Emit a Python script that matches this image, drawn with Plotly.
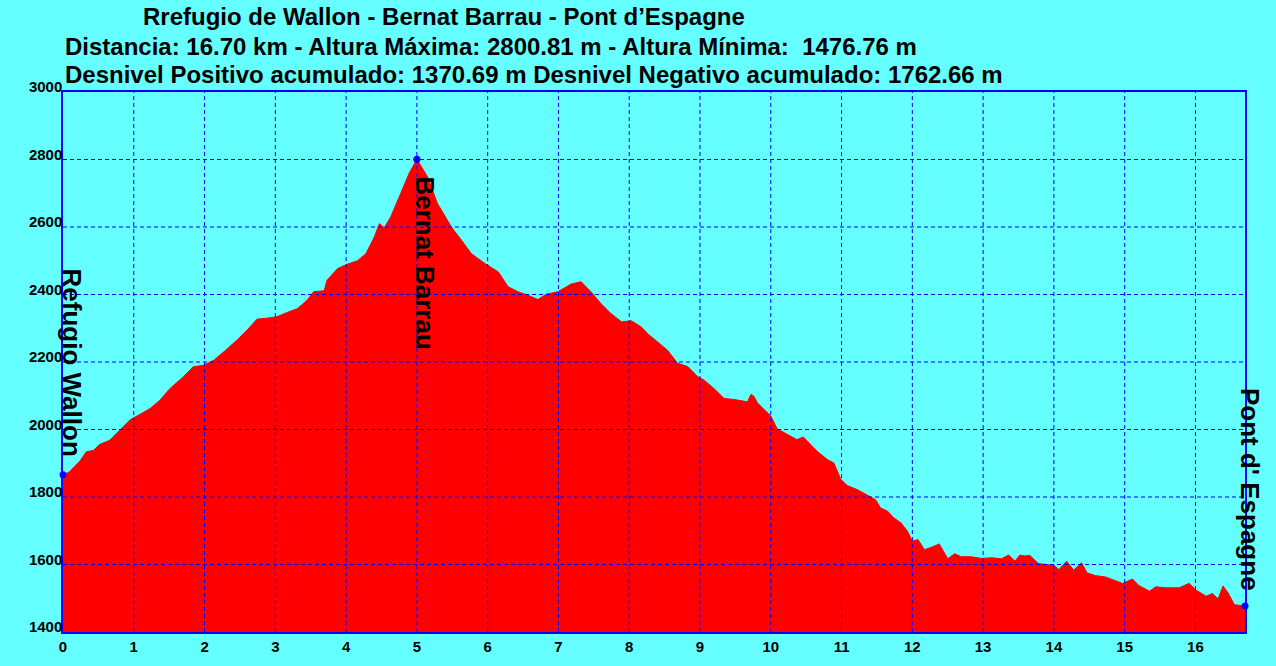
import plotly.graph_objects as go

# Profile data: distance (km) and altitude (m)
distancia = [0.0, 0.09, 0.24, 0.33, 0.43, 0.52, 0.66, 0.80, 0.95, 1.09, 1.23, 1.37, 1.51,
             1.70, 1.84, 1.98, 2.13, 2.27, 2.46, 2.60, 2.74, 2.88, 3.02, 3.17, 3.31, 3.45,
             3.54, 3.69, 3.73, 3.88, 4.02, 4.16, 4.28, 4.40, 4.47, 4.54, 4.63, 4.77, 4.89,
             5.0, 5.15, 5.29, 5.49, 5.63, 5.77, 5.96, 6.15, 6.29, 6.43, 6.57, 6.71, 6.83,
             6.99, 7.18, 7.32, 7.46, 7.60, 7.74, 7.89, 8.03, 8.17, 8.26, 8.40, 8.54, 8.68,
             8.83, 8.97, 9.06, 9.20, 9.34, 9.48, 9.67, 9.72, 9.76, 9.81, 9.90, 10.0, 10.09,
             10.23, 10.37, 10.46, 10.54, 10.65, 10.80, 10.89, 10.99, 11.08, 11.22, 11.36,
             11.48, 11.55, 11.65, 11.74, 11.84, 11.93, 12.0, 12.08, 12.17, 12.27, 12.38,
             12.50, 12.60, 12.69, 12.83, 12.98, 13.12, 13.26, 13.36, 13.45, 13.52, 13.59,
             13.66, 13.78, 13.88, 14.0, 14.07, 14.18, 14.28, 14.39, 14.47, 14.59, 14.73,
             14.82, 14.97, 15.11, 15.20, 15.35, 15.44, 15.58, 15.77, 15.91, 16.01, 16.15,
             16.24, 16.32, 16.39, 16.46, 16.55, 16.70]
altitud = [1866, 1874, 1907, 1934, 1938, 1956, 1968, 1998, 2029, 2045, 2062, 2087, 2121,
           2156, 2186, 2190, 2205, 2230, 2265, 2294, 2327, 2330, 2334, 2347, 2358, 2383,
           2408, 2411, 2442, 2477, 2490, 2500, 2521, 2571, 2610, 2598, 2630, 2699, 2759,
           2800.81, 2749, 2670, 2599, 2561, 2521, 2492, 2467, 2423, 2408, 2398, 2385, 2401,
           2408, 2431, 2438, 2408, 2373, 2344, 2319, 2322, 2304, 2284, 2260, 2235, 2197,
           2186, 2156, 2146, 2121, 2092, 2089, 2082, 2104, 2099, 2079, 2059, 2040, 2002,
           1985, 1970, 1978, 1960, 1936, 1911, 1901, 1852, 1834, 1822, 1807,
           1792, 1768, 1758, 1738, 1723, 1699, 1669, 1674, 1644, 1651, 1661,
           1617, 1632, 1623, 1623, 1618, 1620, 1617, 1628, 1610, 1628, 1625,
           1627, 1603, 1600, 1597, 1585, 1610, 1583, 1605, 1575, 1567, 1563,
           1556, 1544, 1557, 1538, 1521, 1534, 1531, 1531, 1544, 1524, 1506,
           1514, 1498, 1536, 1516, 1481, 1476.76]

# Waypoints
puntos_km = [0.0, 5.0, 16.70]
puntos_alt = [1866, 2800.81, 1476.76]
puntos_nombre = ["Refugio Wallon", "Bernat Barrau", "Pont d' Espagne"]
# label centres (paper x, altitude m)
etiqueta_x = [0.008, 0.306, 1.0042]
etiqueta_alt = [2197, 2493, 1821]

x_ticks = list(range(0, 17))
y_ticks = list(range(1400, 3001, 200))

titulo = ["Rrefugio de Wallon - Bernat Barrau - Pont d\u2019Espagne",
          "Distancia: 16.70 km - Altura M\u00e1xima: 2800.81 m - Altura M\u00ednima:  1476.76 m",
          "Desnivel Positivo acumulado: 1370.69 m Desnivel Negativo acumulado: 1762.66 m"]

CYAN = "#66FFFF"
BLUE = "#0000FF"
FONT = "Liberation Sans, Arial, sans-serif"

fig = go.Figure()
fig.add_trace(go.Scatter(x=distancia, y=altitud, mode="lines", fill="tozeroy",
                         fillcolor="#FF0000", line=dict(color="#FF0000", width=1),
                         hoverinfo="x+y"))
fig.add_trace(go.Scatter(x=puntos_km, y=puntos_alt, mode="markers",
                         marker=dict(color=BLUE, size=7), cliponaxis=False))

# dashed grid drawn over the filled area
for v in x_ticks[1:]:
    fig.add_shape(type="line", xref="x", yref="paper", x0=v, x1=v, y0=0, y1=1,
                  line=dict(color=BLUE, width=1, dash="4px,3px"), layer="above")
for v in y_ticks[1:-1]:
    fig.add_shape(type="line", xref="paper", yref="y", x0=0, x1=1, y0=v, y1=v,
                  line=dict(color=BLUE, width=1, dash="4px,3px"), layer="above")

for nombre, px_, ay in zip(puntos_nombre, etiqueta_x, etiqueta_alt):
    fig.add_annotation(x=px_, y=ay, xref="paper", yref="y", text=nombre, showarrow=False,
                       textangle=90, xanchor="center", yanchor="middle",
                       font=dict(family=FONT, size=26, color="black", weight="bold"))

title_font = dict(family=FONT, size=24, color="black", weight="bold")
fig.add_annotation(x=0.322, y=1.139, xref="paper", yref="paper", text=titulo[0],
                   showarrow=False, xanchor="center", yanchor="middle", font=title_font)
fig.add_annotation(x=0, y=1.085, xref="paper", yref="paper", text=titulo[1],
                   showarrow=False, xanchor="left", yanchor="middle", font=title_font)
fig.add_annotation(x=0, y=1.0315, xref="paper", yref="paper", text=titulo[2],
                   showarrow=False, xanchor="left", yanchor="middle", font=title_font)

tick_font = dict(family="Liberation Sans Narrow, Arial Narrow, " + FONT, size=15,
                 color="black", weight="bold")
fig.update_xaxes(range=[0, 16.7], tickvals=x_ticks, showgrid=False, zeroline=False,
                 showline=True, linecolor=BLUE, linewidth=1.5, mirror=True,
                 ticks="", tickfont=tick_font, ticklabelstandoff=0, layer="above traces")
fig.update_yaxes(range=[1400, 3000], tickvals=y_ticks, showgrid=False, zeroline=False,
                 showline=True, linecolor=BLUE, linewidth=1.5, mirror=True,
                 ticks="", tickfont=tick_font, ticklabelshift=-5, ticklabelstandoff=-4,
                 layer="above traces")

fig.update_layout(width=1276, height=666, paper_bgcolor=CYAN, plot_bgcolor=CYAN,
                  showlegend=False, margin=dict(l=63, r=31, t=92, b=34))

fig.write_html("out.html", config={"displayModeBar": False},
               post_script="document.body.style.margin='0';"
                           "document.body.style.background='" + CYAN + "';")
